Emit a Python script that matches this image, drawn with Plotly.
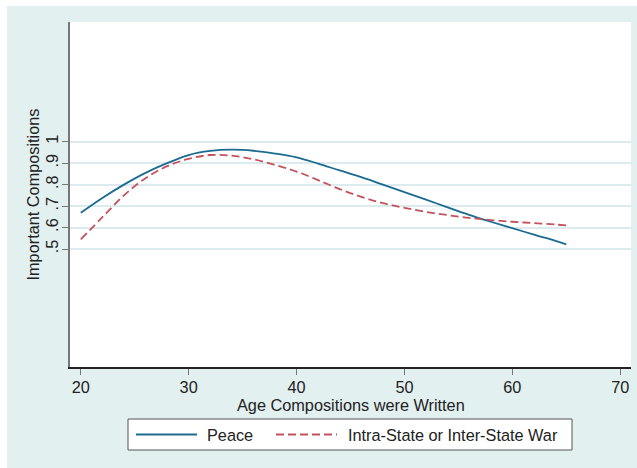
import plotly.graph_objects as go

# Smoothed share of important compositions by the composer's age
age = [20, 22, 24, 26, 28, 30, 32, 34, 36, 38, 40, 42, 44, 46, 48, 50, 52, 54, 56, 58, 60, 62, 64, 65]
peace = [0.669, 0.738, 0.800, 0.855, 0.900, 0.938, 0.957, 0.963, 0.958, 0.945, 0.927, 0.898, 0.866,
         0.835, 0.800, 0.765, 0.730, 0.694, 0.659, 0.627, 0.597, 0.567, 0.538, 0.522]
war = [0.545, 0.648, 0.750, 0.830, 0.886, 0.920, 0.938, 0.935, 0.918, 0.892, 0.861, 0.821, 0.779,
       0.743, 0.714, 0.692, 0.673, 0.658, 0.645, 0.635, 0.627, 0.621, 0.614, 0.610]

x_ticks = [20, 30, 40, 50, 60, 70]
y_ticks = [0.5, 0.6, 0.7, 0.8, 0.9, 1.0]
y_tick_text = [".5", ".6", ".7", ".8", ".9", "1"]

series_names = ["Peace", "Intra-State or Inter-State War"]
series_colors = ["#1a6b8f", "#c4525c"]
series_dash = ["solid", "8px,4px"]

W, H = 637, 468
L, R, T, B = 70, 631, 22, 367   # plot-area edges in pixels
BG = "#e2f0f0"
FONT = "Liberation Sans, Arial, sans-serif"
FS = 16.3
TXT = "#222222"


def px_x(p):
    return (p - L) / (R - L)


def px_y(p):
    return (B - p) / (B - T)


fig = go.Figure()
for name, ys, col, dash in zip(series_names, [peace, war], series_colors, series_dash):
    fig.add_trace(go.Scatter(
        x=age, y=ys, name=name, mode="lines",
        line=dict(color=col, width=1.8, dash=dash, shape="spline", smoothing=1.0),
        showlegend=False,
    ))

shapes = [
    # white strips around the outer panel
    dict(type="rect", xref="paper", yref="paper", x0=px_x(-5), x1=px_x(W + 5), y0=px_y(6), y1=px_y(-5),
         fillcolor="white", line=dict(width=0), layer="below"),
    dict(type="rect", xref="paper", yref="paper", x0=px_x(-5), x1=px_x(7), y0=px_y(H + 5), y1=px_y(-5),
         fillcolor="white", line=dict(width=0), layer="below"),
    # legend box
    dict(type="rect", xref="paper", yref="paper", x0=px_x(128), x1=px_x(572), y0=px_y(450), y1=px_y(419),
         fillcolor="white", line=dict(color="#555555", width=1)),
]

annotations = [
    # x-axis title
    dict(xref="paper", yref="paper", x=0.5, y=px_y(405), text="Age Compositions were Written",
         showarrow=False, xanchor="center", yanchor="middle", borderpad=0,
         font=dict(family=FONT, size=FS, color=TXT)),
]
legend_items = [(136, 197, 205), (276, 337, 346)]
for (lx0, lx1, tx), name, col, dash in zip(legend_items, series_names, series_colors, series_dash):
    shapes.append(dict(type="line", xref="paper", yref="paper", x0=px_x(lx0), x1=px_x(lx1),
                       y0=px_y(434.5), y1=px_y(434.5),
                       line=dict(color=col, width=1.8, dash=dash)))
    annotations.append(dict(xref="paper", yref="paper", x=px_x(tx), y=px_y(434.5), text=name,
                            showarrow=False, xanchor="left", yanchor="middle",
                            font=dict(family=FONT, size=FS, color=TXT)))

fig.update_layout(
    width=W, height=H,
    margin=dict(l=L, r=W - R, t=T, b=H - B, pad=0),
    paper_bgcolor=BG, plot_bgcolor="white",
    font=dict(family=FONT, size=FS, color=TXT),
    shapes=shapes, annotations=annotations,
    showlegend=False,
)

fig.update_xaxes(
    range=[19.0, 71.0], tickvals=x_ticks, ticks="outside", ticklen=6, tickwidth=1.2, tickcolor="#777777",
    ticklabelstandoff=-1,
    showgrid=False, zeroline=False, showline=True, linecolor="#222222", linewidth=1.5,
    tickfont=dict(size=FS),
)
fig.update_yaxes(
    range=[-0.05, 1.558], tickvals=y_ticks, ticktext=y_tick_text, tickangle=-90,
    ticks="outside", ticklen=6, tickwidth=1.2, tickcolor="#777777", ticklabelstandoff=-3,
    showgrid=True, gridcolor="#dcebed", gridwidth=1.5, zeroline=False,
    showline=True, linecolor="#777777", linewidth=2,
    tickfont=dict(size=FS), title=dict(text="Important Compositions", font=dict(size=FS), standoff=0),
)

fig.write_html("out.html")
